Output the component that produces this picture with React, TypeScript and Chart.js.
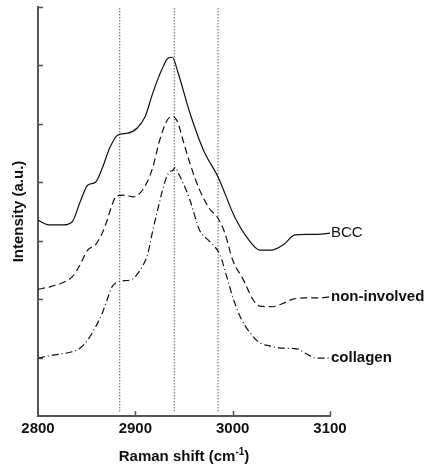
import { useEffect, useRef } from 'react';
import { Chart, registerables } from 'chart.js';
Chart.register(...registerables);

const bccX = [2800, 2812, 2826, 2835, 2843, 2851, 2859, 2866, 2874, 2882, 2892, 2902, 2910, 2918, 2927, 2934, 2938, 2944, 2956, 2970, 2985, 3002, 3015, 3028, 3040, 3052, 3064, 3076, 3087, 3100];
const bccY = [3.35, 3.27, 3.27, 3.32, 3.65, 3.95, 4.0, 4.24, 4.6, 4.81, 4.84, 4.93, 5.12, 5.53, 5.92, 6.13, 6.14, 5.87, 5.19, 4.55, 4.09, 3.41, 3.05, 2.84, 2.84, 2.93, 3.1, 3.11, 3.11, 3.13];

const nonInvX = [2800, 2812, 2825, 2835, 2843, 2851, 2859, 2866, 2871, 2876, 2881, 2889, 2898, 2905, 2912, 2918, 2925, 2933, 2938, 2941, 2944, 2949, 2956, 2966, 2977, 2984, 2992, 3000, 3011, 3021, 3028, 3041, 3052, 3062, 3074, 3087, 3100];
const nonInvY = [2.17, 2.21, 2.28, 2.38, 2.58, 2.84, 2.93, 3.13, 3.35, 3.61, 3.77, 3.78, 3.75, 3.82, 4.0, 4.26, 4.72, 5.07, 5.13, 5.1, 5.01, 4.72, 4.33, 3.87, 3.53, 3.41, 3.13, 2.67, 2.33, 1.99, 1.88, 1.87, 1.93, 2.0, 2.02, 2.02, 2.04];

const collagenX = [2800, 2812, 2823, 2835, 2843, 2851, 2859, 2866, 2871, 2876, 2881, 2886, 2897, 2903, 2908, 2913, 2918, 2923, 2928, 2934, 2939, 2941, 2944, 2949, 2956, 2966, 2975, 2982, 2987, 2994, 3000, 3008, 3018, 3028, 3038, 3052, 3066, 3076, 3087, 3100];
const collagenY = [0.99, 1.03, 1.06, 1.1, 1.16, 1.3, 1.52, 1.76, 1.99, 2.21, 2.29, 2.31, 2.34, 2.45, 2.58, 2.79, 3.18, 3.53, 3.87, 4.16, 4.21, 4.26, 4.16, 3.99, 3.7, 3.18, 3.01, 2.89, 2.76, 2.38, 2.04, 1.69, 1.42, 1.25, 1.2, 1.16, 1.15, 1.06, 0.99, 0.99];

const seriesLabels = ['BCC', 'non-involved', 'collagen'];
const markerLines = [2884, 2940, 2985];
const xTicks = [2800, 2900, 3000, 3100];
const yTicks = [1, 2, 3, 4, 5, 6, 7];
const xTitle = 'Raman shift (cm';
const xTitleSup = '-1';
const yTitle = 'Intensity (a.u.)';

const FONT = "'Liberation Sans', Arial, sans-serif";
const AXIS = '#555';

const toPts = (xs: number[], ys: number[]) => xs.map((x, i) => ({ x, y: ys[i] }));

export default function App() {
  const ref = useRef<HTMLCanvasElement | null>(null);
  useEffect(() => {
    if (!ref.current) return;
    const series = [
      { pts: toPts(bccX, bccY), dash: [] as number[] },
      { pts: toPts(nonInvX, nonInvY), dash: [7, 4] },
      { pts: toPts(collagenX, collagenY), dash: [7, 3, 1, 3] },
    ];
    const datasets: any[] = series.map((s, i) => ({
      label: seriesLabels[i],
      data: s.pts,
      borderColor: '#111',
      borderWidth: 1.2,
      borderDash: s.dash,
      pointRadius: 0,
      cubicInterpolationMode: 'monotone',
      fill: false,
    }));
    markerLines.forEach((m) => {
      datasets.push({
        label: 'marker' + m,
        data: [{ x: m, y: 0.08 }, { x: m, y: 7 }],
        borderColor: '#111',
        borderWidth: 1,
        borderDash: [1, 2],
        pointRadius: 0,
        fill: false,
      });
    });

    const decor = {
      id: 'decor',
      afterDraw(chart: any) {
        const { ctx, chartArea, scales } = chart;
        const xs = scales.x, ys = scales.y;
        ctx.save();
        ctx.strokeStyle = AXIS;
        ctx.lineWidth = 1.5;
        yTicks.forEach((v) => {
          const y = Math.round(ys.getPixelForValue(v)) + 0.5;
          ctx.beginPath();
          ctx.moveTo(chartArea.left, y);
          ctx.lineTo(chartArea.left + 5, y);
          ctx.stroke();
        });
        xTicks.slice(1).forEach((v) => {
          const x = Math.round(xs.getPixelForValue(v)) + 0.5;
          ctx.beginPath();
          ctx.moveTo(x, chartArea.bottom);
          ctx.lineTo(x, chartArea.bottom - 5);
          ctx.stroke();
        });
        ctx.fillStyle = '#111';
        ctx.textBaseline = 'middle';
        ctx.textAlign = 'left';
        series.forEach((s, i) => {
          const last = s.pts[s.pts.length - 1];
          const px = xs.getPixelForValue(last.x) + 1;
          const py = ys.getPixelForValue(last.y);
          ctx.font = (i === 0 ? '' : 'bold ') + '15px ' + FONT;
          ctx.fillText(seriesLabels[i], px, py);
        });
        ctx.font = 'bold 15px ' + FONT;
        const w1 = ctx.measureText(xTitle).width;
        ctx.font = 'bold 10px ' + FONT;
        const w2 = ctx.measureText(xTitleSup).width;
        ctx.font = 'bold 15px ' + FONT;
        const w3 = ctx.measureText(')').width;
        const total = w1 + w2 + w3;
        const cx = (chartArea.left + chartArea.right) / 2;
        const x0 = cx - total / 2;
        const base = 461;
        ctx.textBaseline = 'alphabetic';
        ctx.fillText(xTitle, x0, base);
        ctx.font = 'bold 10px ' + FONT;
        ctx.fillText(xTitleSup, x0 + w1, base - 6);
        ctx.font = 'bold 15px ' + FONT;
        ctx.fillText(')', x0 + w1 + w2, base);
        ctx.restore();
      },
    };

    const chart = new Chart(ref.current, {
      type: 'line',
      data: { datasets },
      plugins: [decor],
      options: {
        animation: false,
        responsive: false,
        layout: { padding: { top: 7, right: 99, left: 0, bottom: 0 } },
        plugins: { legend: { display: false }, tooltip: { enabled: false } },
        scales: {
          x: {
            type: 'linear',
            min: 2800,
            max: 3100,
            afterFit: (s: any) => { s.height = 52; },
            afterBuildTicks: (s: any) => { s.ticks = xTicks.map((v) => ({ value: v })); },
            ticks: {
              color: '#111',
              font: { family: FONT, size: 15, weight: 'bold' },
              padding: 4,
              maxRotation: 0,
              callback: (v: any) => String(v),
            },
            grid: { display: true, drawOnChartArea: false, drawTicks: false },
            border: { display: true, color: AXIS, width: 2 },
          },
          y: {
            type: 'linear',
            min: 0,
            max: 7,
            afterFit: (s: any) => { s.width = 38; },
            ticks: { display: false, stepSize: 1 },
            grid: { display: true, drawOnChartArea: false, drawTicks: false },
            border: { display: true, color: AXIS, width: 2 },
            title: {
              display: true,
              text: yTitle,
              color: '#111',
              font: { family: FONT, size: 15, weight: 'bold' },
              padding: { top: 10, bottom: 0 },
            },
          },
        },
      } as any,
    });
    return () => chart.destroy();
  }, []);
  return (
    <div style={{ position: 'absolute', left: 0, top: 0, width: 429, height: 468, background: '#fff' }}>
      <canvas ref={ref} width={429} height={468} />
    </div>
  );
}
